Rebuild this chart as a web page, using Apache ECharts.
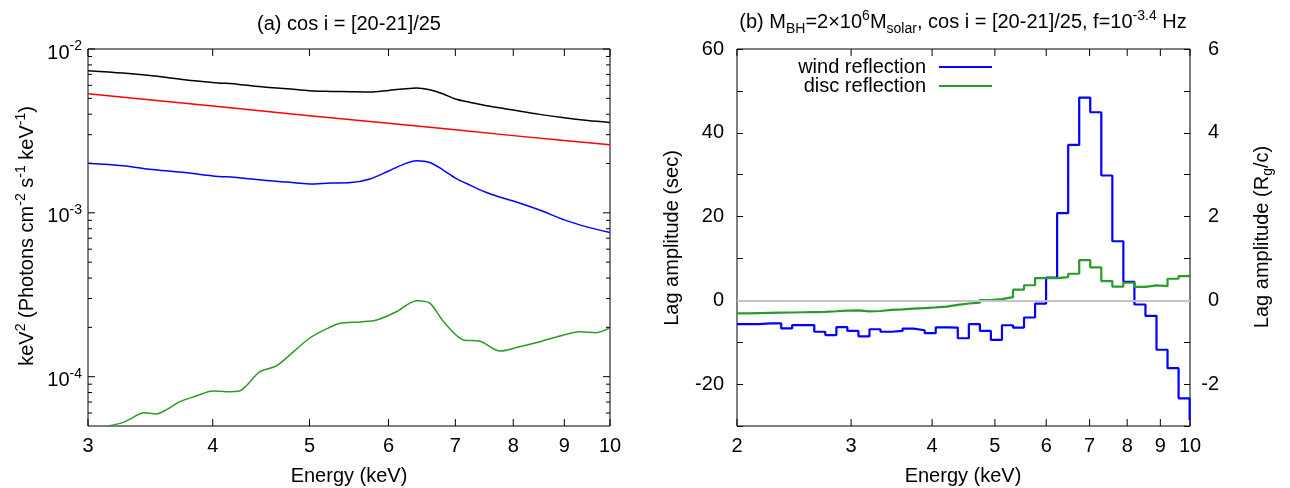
<!DOCTYPE html>
<html>
<head>
<meta charset="utf-8">
<script src="https://cdn.jsdelivr.net/npm/echarts@6/dist/echarts.min.js"></script>
<style>html,body{margin:0;padding:0;background:#fff}#c{width:1290px;height:488px}</style>
</head>
<body>
<div id="c"></div>
<script>
// ---------- Panel (a): spectra ----------
const specEnergy = [3, 3.25, 3.5, 3.75, 4, 4.25, 4.5, 4.75, 5, 5.25, 5.5, 5.75, 6, 6.2, 6.4, 6.6, 6.8, 7, 7.25, 7.5, 7.75, 8, 8.5, 9, 9.5, 10];
const totalFlux = [7.37e-3, 7.13e-3, 6.84e-3, 6.49e-3, 6.25e-3, 6.08e-3, 5.86e-3, 5.72e-3, 5.56e-3, 5.51e-3, 5.48e-3, 5.46e-3, 5.59e-3, 5.70e-3, 5.78e-3, 5.64e-3, 5.33e-3, 4.95e-3, 4.72e-3, 4.52e-3, 4.38e-3, 4.24e-3, 3.99e-3, 3.80e-3, 3.66e-3, 3.56e-3];
const blueFlux = [2.01e-3, 1.94e-3, 1.83e-3, 1.76e-3, 1.68e-3, 1.64e-3, 1.58e-3, 1.54e-3, 1.50e-3, 1.52e-3, 1.53e-3, 1.61e-3, 1.80e-3, 1.97e-3, 2.08e-3, 2.03e-3, 1.83e-3, 1.63e-3, 1.47e-3, 1.34e-3, 1.25e-3, 1.18e-3, 1.04e-3, 9.06e-4, 8.18e-4, 7.58e-4];
const primaryEnergy = [3, 4, 5, 6, 7, 8, 9, 10];
const primaryFlux = [5.33e-3, 4.49e-3, 3.92e-3, 3.52e-3, 3.21e-3, 2.96e-3, 2.76e-3, 2.60e-3];
const greenEnergy = [3.14, 3.25, 3.33, 3.41, 3.51, 3.60, 3.70, 3.85, 4.00, 4.13, 4.26, 4.32, 4.46, 4.63, 4.82, 5.00, 5.20, 5.36, 5.63, 5.84, 6.11, 6.40, 6.60, 6.81, 7.13, 7.41, 7.76, 8.12, 8.51, 8.91, 9.33, 9.69, 10];
const greenFlux = [5.0e-5, 5.24e-5, 5.65e-5, 6.03e-5, 5.92e-5, 6.32e-5, 7.0e-5, 7.62e-5, 8.18e-5, 8.10e-5, 8.21e-5, 8.77e-5, 1.073e-4, 1.162e-4, 1.421e-4, 1.716e-4, 1.956e-4, 2.11e-4, 2.16e-4, 2.22e-4, 2.49e-4, 2.91e-4, 2.81e-4, 2.17e-4, 1.675e-4, 1.645e-4, 1.435e-4, 1.525e-4, 1.636e-4, 1.773e-4, 1.883e-4, 1.857e-4, 1.991e-4];
const specTickE = [3, 4, 5, 6, 7, 8, 9, 10];
const specMajorY = [1e-4, 1e-3, 1e-2];
const specMinorY = [6e-5, 7e-5, 8e-5, 9e-5, 2e-4, 3e-4, 4e-4, 5e-4, 6e-4, 7e-4, 8e-4, 9e-4, 2e-3, 3e-3, 4e-3, 5e-3, 6e-3, 7e-3, 8e-3, 9e-3];

// ---------- Panel (b): lag spectra (bin left edges, last = right end) ----------
const lagEdges = [2.000, 2.080, 2.163, 2.250, 2.340, 2.433, 2.531, 2.632, 2.737, 2.847, 2.960, 3.079, 3.202, 3.330, 3.463, 3.602, 3.746, 3.896, 4.052, 4.214, 4.382, 4.558, 4.740, 4.929, 5.127, 5.332, 5.545, 5.767, 5.997, 6.237, 6.487, 6.746, 7.016, 7.297, 7.589, 7.892, 8.208, 8.536, 8.878, 9.233, 9.602, 9.986];
const windLag = [-5.7, -5.7, -5.5, -5.5, -6.7, -5.9, -5.9, -7.5, -8.3, -6.4, -7.3, -8.6, -6.9, -7.5, -7.3, -6.75, -7.15, -7.85, -6.45, -6.5, -9.05, -5.7, -7.3, -9.45, -5.95, -6.5, -4.1, -0.8, 5.4, 20.8, 37.1, 48.4, 44.9, 29.8, 14.1, 4.4, -1.0, -3.7, -11.8, -16.2, -23.4, -28.5];
const discLag = [-3.1, -3.05, -3.0, -2.95, -2.9, -2.85, -2.8, -2.75, -2.6, -2.45, -2.4, -2.65, -2.55, -2.3, -2.15, -2.0, -1.85, -1.7, -1.5, -1.1, -0.75, -0.55, 0.05, 0.3, 0.75, 2.55, 3.6, 5.3, 5.3, 5.55, 6.35, 9.6, 7.85, 4.6, 3.25, 4.2, 3.2, 3.55, 3.4, 5.15, 5.8, 6.2];
const lagTickE = [2, 3, 4, 5, 6, 7, 8, 9, 10];

const FONT = 'Liberation Sans';
const FS = 20;
const SS = 14;
const SPEC_X = [3, 10], SPEC_Y = [5e-5, 1e-2], LAG_X = [2, 10], LAG_Y = [-30, 60];

const zip = (a, b) => a.map((v, i) => [v, b[i]]);
const richT = {
  sup: {fontSize: SS, fontFamily: FONT, fill: '#000', color: '#000', padding: [0, 0, 12, 0]},
  sub: {fontSize: SS, fontFamily: FONT, fill: '#000', color: '#000', padding: [13, 0, 0, 0]}
};
const richY = {
  b: {fontSize: FS, fontFamily: FONT, color: '#000', padding: [8, 0, 0, 0]},
  s: {fontSize: SS, fontFamily: FONT, color: '#000', padding: [0, 0, 6, 0]}
};

function seg(x1, y1, x2, y2) {
  return {type: 'line', shape: {x1, y1, x2, y2}, style: {stroke: '#000', lineWidth: 1}};
}
function lbl(x, y, text) {
  return {type: 'text', x, y, style: {text, fill: '#000', font: FS + 'px "' + FONT + '"',
    align: 'center', verticalAlign: 'middle', textAlign: 'center', textVerticalAlign: 'middle'}};
}
function xTicks(xi, yi, ticks, yr) {
  return {
    type: 'custom', xAxisIndex: xi, yAxisIndex: yi, silent: true, clip: false, z: 5,
    data: ticks.map(e => [e, yr[0]]),
    renderItem: (p, api) => {
      const e = api.value(0);
      const b = api.coord([e, yr[0]]), t = api.coord([e, yr[1]]);
      return {type: 'group', children: [
        seg(b[0], b[1], b[0], b[1] - 7),
        seg(t[0], t[1], t[0], t[1] + 7),
        lbl(b[0], b[1] + 20, String(e))
      ]};
    }
  };
}
function yTicks(xi, yi, ticks, xr, len) {
  return {
    type: 'custom', xAxisIndex: xi, yAxisIndex: yi, silent: true, clip: false, z: 5,
    data: ticks.map(v => [xr[0], v]),
    renderItem: (p, api) => {
      const v = api.value(1);
      const l = api.coord([xr[0], v]), r = api.coord([xr[1], v]);
      return {type: 'group', children: [
        seg(l[0], l[1], l[0] + len, l[1]),
        seg(r[0] - len, r[1], r[0], r[1])
      ]};
    }
  };
}
function gtext(x, y, text, rot) {
  return {type: 'text', x, y, rotation: rot || 0, silent: true, z: 10,
    style: {text, rich: richT, fill: '#000', font: FS + 'px "' + FONT + '"',
      align: 'center', verticalAlign: 'middle', textAlign: 'center', textVerticalAlign: 'middle'}};
}
const hiddenAxis = {axisLine: {show: false}, axisTick: {show: false}, axisLabel: {show: false}, splitLine: {show: false}};
const legendBase = {orient: 'vertical', align: 'right', icon: 'rect', right: 298,
  itemWidth: 53, itemHeight: 2, padding: 0, selectedMode: false,
  textStyle: {fontSize: FS, fontFamily: FONT, color: '#000', lineHeight: 20, padding: [0, 8, 0, 0]}};

const chart = echarts.init(document.getElementById('c'));
chart.setOption({
  animation: false,
  textStyle: {fontFamily: FONT, color: '#000'},
  grid: [
    {left: 88, top: 49, width: 522, height: 377, show: true, borderColor: '#000', borderWidth: 1, backgroundColor: 'transparent'},
    {left: 737, top: 49, width: 453, height: 377, show: true, borderColor: '#000', borderWidth: 1, backgroundColor: 'transparent'}
  ],
  xAxis: [
    Object.assign({gridIndex: 0, type: 'log', logBase: 10, min: SPEC_X[0], max: SPEC_X[1]}, hiddenAxis),
    Object.assign({gridIndex: 1, type: 'log', logBase: 10, min: LAG_X[0], max: LAG_X[1]}, hiddenAxis)
  ],
  yAxis: [
    {gridIndex: 0, type: 'log', logBase: 10, min: SPEC_Y[0], max: SPEC_Y[1],
      axisLine: {show: false}, axisTick: {show: false}, splitLine: {show: false},
      axisLabel: {showMinLabel: false, margin: 6, color: '#000', fontSize: FS, fontFamily: FONT, rich: richY,
        formatter: v => '{b|10}{s|' + Math.round(Math.log10(v)) + '}'}},
    {gridIndex: 1, type: 'value', min: LAG_Y[0], max: LAG_Y[1], interval: 10,
      axisLine: {show: false}, splitLine: {show: false},
      axisTick: {show: true, inside: true, length: 6, lineStyle: {color: '#000', width: 1}},
      axisLabel: {margin: 13, color: '#000', fontSize: FS, fontFamily: FONT,
        formatter: v => (v % 20 === 0 ? String(v) : '')}},
    {gridIndex: 1, type: 'value', position: 'right', min: -3, max: 6, interval: 1,
      axisLine: {show: false}, splitLine: {show: false},
      axisTick: {show: true, inside: true, length: 6, lineStyle: {color: '#000', width: 1}},
      axisLabel: {margin: 29, align: 'right', color: '#000', fontSize: FS, fontFamily: FONT,
        formatter: v => (v % 2 === 0 ? String(v) : '')}}
  ],
  legend: [
    Object.assign({data: ['wind reflection'], top: 57}, legendBase),
    Object.assign({data: ['disc reflection'], top: 76}, legendBase)
  ],
  graphic: [
    gtext(349, 24, '(a) cos i = [20-21]/25'),
    gtext(963, 22.5, '(b) M{sub|BH}=2×10{sup|6}M{sub|solar}, cos i = [20-21]/25, f=10{sup|-3.4} Hz'),
    gtext(27, 236, 'keV{sup|2} (Photons cm{sup|-2} s{sup|-1} keV{sup|-1})', Math.PI / 2),
    gtext(672, 238, 'Lag amplitude (sec)', Math.PI / 2),
    gtext(1262, 237, 'Lag amplitude (R{sub|g}/c)', Math.PI / 2),
    gtext(349, 476, 'Energy (keV)'),
    gtext(963, 476, 'Energy (keV)')
  ],
  series: [
    {name: 'total', type: 'line', xAxisIndex: 0, yAxisIndex: 0, data: zip(specEnergy, totalFlux),
      smooth: 0.3, symbol: 'none', silent: true, z: 3, lineStyle: {color: '#000000', width: 1.5}, itemStyle: {color: '#000000'}},
    {name: 'primary', type: 'line', xAxisIndex: 0, yAxisIndex: 0, data: zip(primaryEnergy, primaryFlux),
      symbol: 'none', silent: true, z: 3, lineStyle: {color: '#ff0000', width: 1.5}, itemStyle: {color: '#ff0000'}},
    {name: 'wind spectrum', type: 'line', xAxisIndex: 0, yAxisIndex: 0, data: zip(specEnergy, blueFlux),
      smooth: 0.3, symbol: 'none', silent: true, z: 3, lineStyle: {color: '#0000ff', width: 1.5}, itemStyle: {color: '#0000ff'}},
    {name: 'disc spectrum', type: 'line', xAxisIndex: 0, yAxisIndex: 0, data: zip(greenEnergy, greenFlux),
      smooth: 0.3, symbol: 'none', silent: true, z: 3, lineStyle: {color: '#2a9a2a', width: 1.5}, itemStyle: {color: '#2a9a2a'}},
    xTicks(0, 0, specTickE, SPEC_Y),
    yTicks(0, 0, specMajorY, SPEC_X, 7),
    yTicks(0, 0, specMinorY, SPEC_X, 4),
    {name: 'zero', type: 'line', xAxisIndex: 1, yAxisIndex: 1, data: [], z: 1, silent: true,
      markLine: {silent: true, symbol: 'none', label: {show: false}, animation: false,
        lineStyle: {color: '#c4c4c4', width: 2, type: 'solid'}, data: [{yAxis: 0}]}},
    {name: 'wind reflection', type: 'line', step: 'end', xAxisIndex: 1, yAxisIndex: 1, data: zip(lagEdges, windLag),
      symbol: 'none', silent: true, z: 3, lineStyle: {color: '#0000ff', width: 2.2}, itemStyle: {color: '#0000ff'}},
    {name: 'disc reflection', type: 'line', step: 'end', xAxisIndex: 1, yAxisIndex: 1, data: zip(lagEdges, discLag),
      symbol: 'none', silent: true, z: 3, lineStyle: {color: '#2a9a2a', width: 2.2}, itemStyle: {color: '#2a9a2a'}},
    xTicks(1, 1, lagTickE, LAG_Y)
  ]
});
</script>
</body>
</html>
